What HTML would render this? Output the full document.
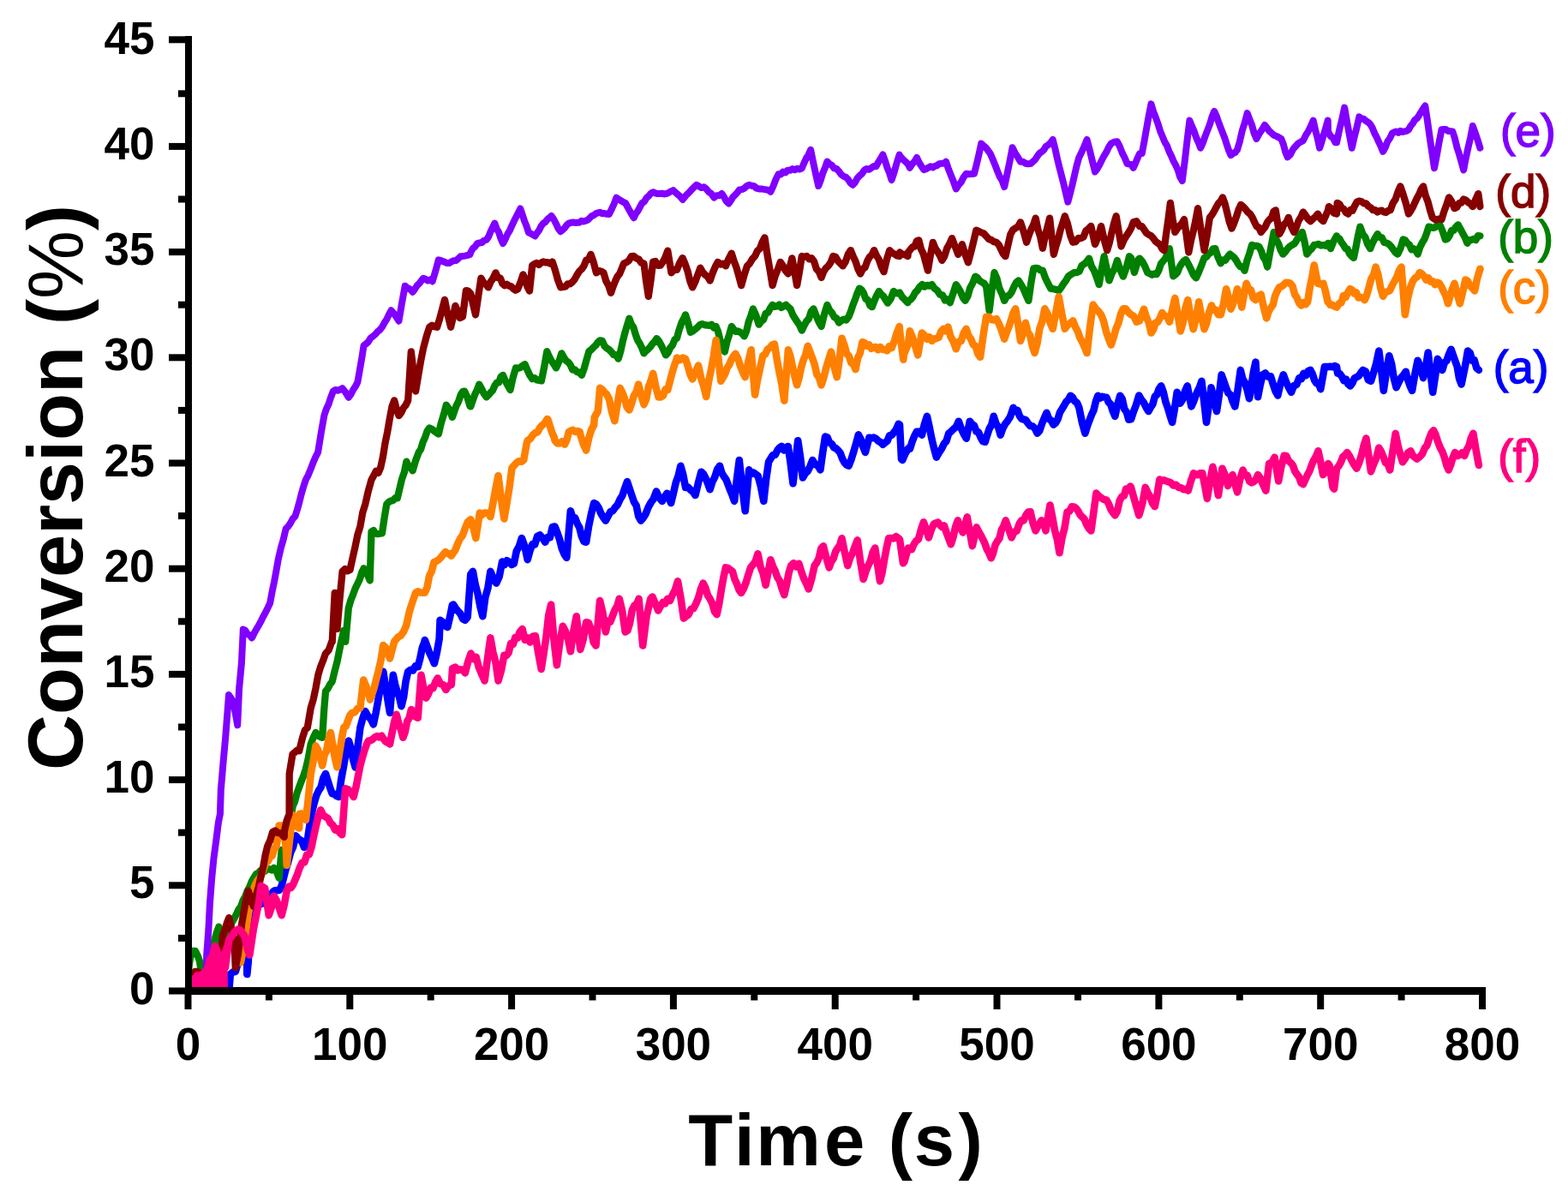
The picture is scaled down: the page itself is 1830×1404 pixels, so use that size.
<!DOCTYPE html>
<html><head><meta charset="utf-8"><style>
html,body{margin:0;padding:0;background:#fff;}
svg{display:block;}
text{font-family:"Liberation Sans",Arial,sans-serif;font-weight:bold;}
.lg text{font-weight:normal;}
</style></head><body>
<svg width="1830" height="1404" viewBox="0 0 1830 1404">
<rect width="1830" height="1404" fill="#fff"/>
<defs><clipPath id="pc"><rect x="216" y="0" width="1614" height="1156"/></clipPath></defs>
<g clip-path="url(#pc)" fill="none" stroke-width="8" stroke-linejoin="round" stroke-linecap="round">
<path d="M267.3 1156.4L268.8 1137.0L271.8 1134.4L274.8 1134.0L277.5 1125.0L280.2 1121.1L282.9 1110.8L285.6 1106.7L288.3 1099.6L288.3 1137.0L289.8 1122.0L291.3 1077.1L292.8 1066.7L295.4 1063.5L297.9 1059.3L300.5 1059.7L303.1 1054.5L305.6 1054.6L308.2 1050.0L310.8 1047.8L313.3 1047.4L315.9 1047.5L318.4 1040.9L321.0 1039.2L323.6 1039.3L326.1 1038.8L328.7 1033.8L333.2 1015.8L336.2 1006.2L339.1 995.0L342.1 988.4L345.1 975.4L349.2 980.0L349.6 979.9L352.3 981.7L355.0 988.9L356.9 987.7L359.3 977.4L361.7 961.4L364.1 948.1L366.5 937.7L369.2 928.5L371.9 922.7L374.6 918.8L377.3 908.1L380.0 903.1L382.6 911.3L385.1 919.3L387.7 926.2L390.3 926.7L392.8 929.0L395.4 930.0L398.3 909.1L401.2 893.5L404.0 876.4L406.9 864.6L409.5 873.1L412.0 886.2L414.6 895.4L417.5 871.9L420.4 849.2L423.3 838.5L426.2 830.0L428.6 834.4L431.0 837.4L433.4 840.3L435.8 845.4L438.7 831.8L441.6 815.8L444.4 797.7L447.3 783.8L449.9 800.3L452.4 816.0L455.0 831.9L458.8 787.7L461.2 799.1L463.6 807.3L466.1 813.8L468.5 824.2L471.1 813.6L473.6 795.0L476.2 783.8L479.1 781.9L481.9 782.5L484.8 777.4L487.7 778.1L490.3 768.4L492.8 756.1L495.4 749.2L495.8 747.0L498.6 754.8L501.4 762.2L504.1 767.8L506.9 774.2L509.8 762.1L512.7 745.4L513.6 723.8L516.8 726.1L520.0 730.7L522.3 731.9L525.1 720.1L527.9 706.0L529.1 705.6L531.8 709.8L534.6 713.4L537.3 716.3L540.1 722.3L542.8 723.9L545.7 720.3L549.3 670.4L551.9 666.9L554.8 682.7L557.6 692.9L560.4 707.8L563.3 719.3L566.3 697.4L569.4 686.4L572.4 666.9L575.8 675.2L579.3 680.6L582.7 673.0L586.1 655.5L588.8 659.2L591.6 654.3L594.3 655.7L597.1 659.0L599.8 657.8L602.8 643.1L605.9 637.6L608.9 628.1L612.3 637.3L615.7 653.2L618.6 642.5L621.4 635.1L624.2 635.4L627.1 625.9L630.1 624.5L633.2 627.9L636.2 632.7L639.1 627.1L641.9 627.3L644.8 614.9L647.6 614.5L650.3 621.3L653.1 629.6L655.8 640.2L658.6 646.8L661.3 650.9L665.9 596.2L668.5 605.1L671.1 604.4L673.7 611.0L676.3 615.6L678.9 626.1L681.5 632.1L684.1 632.7L687.1 614.0L690.2 599.1L693.2 587.1L695.9 588.5L698.7 592.6L701.4 599.3L704.2 604.0L706.9 607.6L709.6 602.5L712.4 597.3L715.1 596.2L717.9 592.3L720.6 589.4L723.5 583.0L726.3 578.5L729.1 570.1L732.0 562.1L734.6 569.8L737.3 578.0L740.0 585.9L742.6 589.8L745.2 602.4L747.9 607.6L750.0 605.4L753.4 600.2L756.8 591.7L759.3 587.1L762.6 582.5L766.0 573.5L769.4 581.0L772.8 584.9L775.6 579.7L778.5 575.7L783.1 587.1L785.9 575.7L788.8 563.1L791.6 555.4L794.4 543.8L797.2 553.7L800.1 568.9L803.0 568.6L805.8 571.7L808.6 573.7L811.5 578.0L815.0 563.4L818.4 550.7L821.0 553.1L823.5 558.0L826.0 564.0L828.6 571.2L831.5 562.0L834.3 556.7L837.1 547.8L840.0 543.8L842.4 551.9L844.9 556.2L847.3 559.3L849.8 565.8L852.2 572.2L854.7 578.2L857.1 584.9L860.0 558.7L862.8 537.0L866.2 568.7L869.7 596.3L874.2 548.4L876.8 553.1L879.4 551.6L881.9 553.4L884.5 555.2L887.9 567.6L891.3 584.9L894.1 559.7L897.0 539.3L899.6 534.9L902.1 531.0L904.7 531.0L907.3 525.6L909.8 522.6L912.3 520.9L914.8 525.5L917.3 522.1L919.8 521.0L922.6 540.5L925.5 564.3L928.4 539.5L931.2 514.2L934.0 533.0L936.9 557.5L939.8 552.5L942.6 550.1L945.4 544.3L948.3 537.0L951.3 542.0L954.4 543.2L957.4 548.4L960.2 528.2L963.1 509.6L965.6 510.3L968.1 516.7L970.7 518.0L973.2 522.2L975.7 523.3L978.2 525.7L980.6 528.5L983.1 535.4L985.6 539.9L988.0 542.5L990.5 543.8L993.4 536.5L996.2 527.5L999.0 517.9L1001.9 507.4L1004.6 512.6L1007.2 521.2L1009.9 527.9L1014.4 510.8L1017.1 511.3L1019.7 510.6L1022.4 512.0L1025.1 514.8L1027.7 516.0L1030.4 518.8L1033.0 516.5L1035.6 514.7L1038.2 508.2L1040.8 507.7L1043.4 504.6L1046.0 501.0L1048.6 494.8L1050.0 495.7L1052.0 535.6L1053.2 537.0L1056.6 529.3L1060.0 523.3L1062.0 523.7L1064.6 515.4L1067.3 508.7L1069.9 503.7L1072.9 503.9L1075.9 507.7L1078.9 495.0L1081.9 485.8L1084.7 498.5L1087.4 512.1L1090.2 523.7L1092.9 533.6L1095.9 528.2L1098.9 523.9L1101.9 517.7L1104.5 514.8L1107.2 505.9L1109.8 503.7L1112.8 500.7L1115.8 498.2L1118.8 491.7L1121.8 500.1L1124.8 506.5L1127.8 511.7L1131.8 491.7L1134.4 495.0L1136.9 496.6L1139.5 503.7L1142.0 504.4L1144.6 510.6L1147.1 515.1L1149.7 515.7L1152.2 507.6L1154.7 500.2L1157.2 496.0L1159.7 485.8L1162.4 494.4L1165.0 498.4L1167.7 507.7L1170.3 500.1L1173.0 494.9L1175.6 491.7L1179.1 486.2L1182.6 475.8L1185.0 480.2L1187.5 478.8L1189.9 485.4L1192.3 488.9L1194.7 489.5L1197.2 490.2L1199.6 493.7L1202.3 497.0L1205.1 497.5L1207.8 499.8L1210.6 505.7L1213.3 502.6L1216.0 494.6L1218.8 487.9L1221.5 481.8L1224.2 489.0L1226.8 490.7L1229.5 495.7L1232.0 493.7L1234.5 489.2L1237.0 481.3L1239.5 477.3L1241.9 473.3L1244.4 468.7L1246.9 466.6L1249.4 461.8L1251.9 463.9L1254.4 468.3L1256.9 470.1L1259.4 475.8L1262.9 493.2L1266.4 505.7L1268.9 497.5L1271.4 490.8L1273.9 484.3L1276.4 478.9L1278.9 468.6L1281.4 461.8L1283.9 464.8L1286.3 462.8L1288.8 463.5L1291.3 463.8L1293.8 469.4L1296.3 471.9L1298.8 479.9L1301.3 485.8L1304.3 471.9L1307.3 461.8L1309.8 465.8L1312.3 477.5L1314.8 480.8L1317.3 489.7L1320.0 489.3L1323.1 480.0L1326.1 472.3L1329.2 461.8L1329.3 461.5L1332.1 466.5L1334.8 469.7L1337.6 475.5L1340.4 480.0L1342.9 475.4L1345.3 471.8L1347.8 462.8L1350.3 460.6L1352.7 453.8L1355.2 450.4L1357.8 457.6L1360.4 469.1L1362.9 476.0L1365.5 484.9L1368.1 493.0L1370.9 477.0L1373.7 457.8L1377.4 470.7L1380.2 466.4L1382.9 456.8L1385.7 450.4L1390.4 474.4L1392.8 469.2L1395.2 462.6L1397.6 456.7L1400.0 451.9L1402.4 444.8L1405.2 468.6L1408.0 493.0L1410.8 472.8L1413.5 452.2L1416.8 466.0L1420.0 480.0L1422.8 461.3L1425.6 437.4L1428.2 444.8L1430.8 452.0L1433.4 458.6L1436.1 460.6L1438.7 468.6L1441.3 474.4L1444.5 455.8L1447.8 431.9L1450.3 442.3L1452.9 446.4L1455.5 454.6L1458.0 465.2L1460.5 450.7L1462.9 434.2L1465.4 422.6L1468.1 463.3L1470.9 448.8L1473.7 437.4L1476.8 435.5L1479.9 439.7L1483.0 439.3L1485.8 448.4L1488.5 456.5L1491.3 461.5L1494.5 447.4L1497.8 437.4L1500.9 445.5L1503.9 452.0L1507.0 457.8L1510.1 450.1L1513.2 449.0L1516.3 441.1L1518.9 442.1L1521.5 435.7L1524.1 438.3L1526.7 433.1L1529.3 431.9L1531.7 436.3L1534.1 443.7L1536.5 447.2L1538.9 447.6L1541.3 454.1L1545.9 428.1L1550.0 428.1L1552.5 427.7L1555.0 428.2L1557.5 427.1L1560.0 428.1L1561.1 435.6L1563.6 436.2L1566.0 439.4L1568.5 444.3L1571.0 442.6L1573.4 448.3L1575.9 450.4L1578.4 447.0L1580.8 441.3L1583.3 440.1L1585.8 438.8L1588.2 435.1L1590.7 431.9L1593.8 433.6L1596.9 443.4L1600.0 444.8L1603.1 434.8L1606.2 424.2L1609.3 409.6L1612.0 430.4L1614.8 455.9L1618.0 434.1L1621.3 415.2L1624.1 424.8L1626.8 441.5L1629.6 452.2L1632.4 446.2L1635.2 440.7L1637.9 437.9L1640.7 433.7L1643.2 443.6L1645.6 450.4L1648.1 455.9L1651.3 436.9L1654.6 420.7L1657.8 428.8L1661.1 441.1L1663.9 428.8L1666.7 411.5L1669.5 435.1L1672.2 457.8L1675.0 439.6L1677.8 418.9L1680.5 422.9L1683.3 431.9L1685.8 423.2L1688.4 421.0L1691.0 413.4L1693.5 407.8L1698.1 420.7L1700.6 427.4L1703.1 441.9L1705.6 448.5L1708.1 436.3L1710.5 424.4L1713.0 409.6L1715.6 411.6L1718.2 420.7L1720.7 420.4L1723.3 429.6L1725.9 431.9" stroke="#0000ff" stroke-width="8.6"/>
<path d="M218.0 1152.0L219.0 1140.0L222.0 1118.0L225.0 1110.0L228.0 1110.0L231.0 1116.0L233.0 1122.0L235.0 1135.0L236.5 1145.0L239.2 1135.7L241.9 1126.2L244.6 1118.1L247.3 1110.6L250.0 1098.7L252.7 1089.0L255.4 1081.6L258.4 1104.1L260.9 1099.0L263.4 1092.5L266.0 1086.7L268.5 1081.7L271.0 1075.9L273.6 1071.4L276.1 1066.6L278.6 1061.3L281.1 1058.1L283.6 1050.8L286.2 1046.5L288.7 1039.8L291.2 1035.3L293.8 1028.7L296.3 1024.4L298.8 1020.3L301.7 1018.8L304.3 1015.8L306.8 1018.1L309.4 1016.5L312.0 1014.0L314.6 1014.4L317.1 1015.6L319.7 1012.8L322.7 1017.1L325.7 1024.8L328.7 991.9L331.7 1009.8L334.1 994.1L336.6 975.4L339.1 958.6L341.5 941.5L344.1 935.3L346.6 925.7L349.2 918.5L351.8 911.5L354.3 905.2L356.9 897.3L359.8 885.0L362.7 868.5L365.6 861.1L368.5 855.0L371.1 858.4L373.6 859.8L376.2 860.8L378.1 830.0L380.0 806.9L382.6 803.7L385.1 798.8L387.7 795.4L390.6 783.2L393.5 772.3L397.3 753.1L401.2 735.8L403.2 748.8L406.8 709.6L409.4 700.5L412.1 693.7L414.8 686.3L417.4 681.1L419.8 676.2L422.2 668.2L424.6 663.3L428.1 668.9L431.7 677.5L433.5 620.5L436.0 619.0L438.5 622.7L440.9 623.2L443.4 622.7L445.9 622.3L448.6 604.4L451.3 588.4L453.8 585.8L456.3 584.6L458.8 584.0L461.3 581.2L463.8 581.3L466.4 570.4L469.1 558.9L471.8 551.3L474.4 538.6L476.8 544.2L479.2 545.9L481.6 549.3L485.1 537.5L488.7 527.9L491.2 524.2L493.7 515.7L496.2 510.2L498.7 502.9L501.2 499.4L503.9 500.7L506.5 502.8L509.1 504.7L511.8 506.5L514.8 493.9L517.8 484.0L520.8 472.7L524.3 477.6L527.9 486.9L530.3 479.9L532.7 473.2L535.2 468.6L537.6 461.0L540.0 457.1L542.1 456.6L545.3 463.3L548.5 474.2L549.3 474.4L551.8 467.1L554.2 460.3L556.7 455.4L559.2 448.6L562.1 453.7L564.9 459.6L567.8 463.5L570.2 461.0L572.6 458.1L575.0 455.6L577.4 450.2L579.8 446.7L582.2 446.4L584.6 439.6L587.0 437.9L589.8 444.6L592.7 449.9L595.5 455.0L598.8 440.2L602.0 429.4L604.6 429.8L607.3 429.0L610.0 426.7L612.6 425.1L615.5 431.8L618.3 437.9L621.2 442.2L623.9 441.1L626.5 443.4L629.2 443.8L631.9 444.3L635.1 428.7L638.3 410.1L641.0 416.3L643.6 421.2L646.3 424.9L649.0 429.4L652.2 422.6L655.4 412.3L658.0 416.9L660.5 420.8L663.1 422.6L665.6 425.6L668.2 431.5L670.9 431.5L673.5 434.1L676.2 434.6L678.9 437.9L681.7 430.1L684.6 419.6L687.4 410.1L690.0 408.1L692.5 405.5L695.1 403.2L697.6 399.8L700.2 397.3L702.9 397.8L705.6 404.0L708.2 406.4L710.9 408.0L713.6 410.8L716.2 414.1L718.9 414.1L721.6 418.7L724.2 410.3L726.7 398.8L729.3 388.6L731.8 380.1L734.4 371.7L736.8 378.5L739.3 382.0L741.7 390.2L744.2 397.0L746.6 400.7L749.1 406.0L751.5 412.3L754.0 409.4L756.5 407.4L759.0 404.9L761.4 401.4L763.9 398.7L766.4 395.2L769.1 398.1L771.8 403.2L774.4 408.5L777.1 414.4L779.7 411.5L782.3 405.7L784.8 402.9L787.4 396.5L790.0 394.7L792.1 386.6L795.6 376.2L799.1 369.6L800.0 367.4L803.0 376.6L805.9 387.8L808.8 386.3L811.6 384.1L814.4 381.7L817.3 378.7L819.9 378.1L822.5 379.4L825.1 379.5L827.8 379.9L830.4 378.7L833.0 382.4L835.6 381.0L838.1 387.1L840.7 397.9L843.2 405.1L845.8 410.6L848.5 398.6L851.1 390.7L853.8 381.0L856.3 384.3L858.7 386.9L861.2 386.5L863.7 387.6L866.1 389.2L868.6 392.4L871.2 386.4L873.8 375.2L876.3 368.8L878.9 360.5L882.3 368.0L885.7 378.7L888.4 375.0L891.0 373.1L893.7 365.7L896.3 364.9L899.0 359.7L901.6 355.9L904.2 357.9L906.8 357.5L909.4 355.7L912.1 359.0L914.7 357.5L917.3 355.8L919.9 358.2L922.5 360.6L925.2 367.3L927.8 371.7L930.5 375.6L933.1 379.5L935.8 385.6L938.5 379.9L941.3 374.8L944.0 372.0L946.8 363.3L949.5 360.5L952.5 368.4L955.6 375.7L958.6 381.0L962.0 366.8L965.4 355.9L968.1 361.9L970.9 365.1L973.6 370.0L976.4 371.5L979.1 376.5L982.0 374.2L984.8 372.6L987.6 373.5L990.5 369.6L993.0 363.4L995.5 355.8L998.0 349.5L1000.5 342.2L1003.0 336.6L1005.5 338.2L1007.9 342.0L1010.4 348.9L1012.9 350.1L1015.3 356.5L1017.8 358.2L1020.5 351.0L1023.1 345.0L1025.8 340.0L1028.4 343.5L1030.9 345.5L1033.5 349.7L1036.1 353.7L1039.5 348.9L1042.9 340.0L1046.5 342.4L1050.0 341.5L1053.1 346.8L1056.3 349.9L1059.4 353.3L1060.0 351.4L1062.7 349.8L1065.4 346.6L1068.1 341.5L1070.8 338.8L1073.5 334.5L1076.3 332.0L1079.1 334.6L1082.0 332.8L1084.8 333.7L1087.6 332.1L1090.7 336.7L1093.9 339.0L1097.0 343.9L1100.0 344.3L1102.9 350.5L1105.8 349.3L1108.8 353.3L1112.3 342.6L1115.8 332.1L1118.5 336.1L1121.1 340.6L1123.8 347.3L1126.4 350.9L1129.4 345.9L1132.3 335.7L1135.2 330.4L1138.2 322.7L1140.8 324.2L1143.4 327.7L1145.9 329.3L1148.5 330.7L1151.1 334.5L1154.6 362.7L1157.5 338.9L1160.5 318.0L1163.4 324.9L1166.3 336.2L1169.3 342.7L1172.2 350.9L1175.0 345.8L1177.7 344.9L1180.5 341.3L1183.2 335.0L1186.0 329.7L1188.7 327.4L1191.6 331.9L1194.6 337.3L1197.5 344.3L1200.4 350.9L1203.3 330.3L1206.3 313.3L1209.0 312.8L1211.6 313.4L1214.2 315.4L1216.9 315.7L1220.0 324.4L1223.2 330.9L1226.3 336.8L1229.4 337.2L1232.6 338.0L1235.7 339.2L1238.5 335.5L1241.3 331.1L1244.2 327.2L1247.0 322.2L1249.8 320.4L1253.3 318.2L1256.9 318.0L1259.7 316.8L1262.5 309.8L1265.4 308.2L1268.2 305.5L1271.0 301.6L1273.9 310.8L1276.8 315.6L1279.8 323.5L1282.7 332.1L1285.7 314.5L1288.6 299.2L1291.5 312.9L1294.5 327.4L1297.6 319.3L1300.8 313.7L1303.9 303.9L1307.4 314.8L1310.9 322.7L1314.5 312.6L1318.0 299.2L1320.0 300.9L1323.9 318.0L1328.5 303.0L1330.0 301.6L1333.1 305.0L1336.1 310.5L1339.2 318.0L1341.9 319.4L1344.6 320.8L1347.2 319.5L1349.9 320.1L1352.4 315.5L1354.9 307.9L1357.4 304.7L1359.9 302.0L1362.4 296.6L1364.9 290.2L1369.2 322.3L1371.7 320.6L1374.2 317.9L1376.7 311.5L1379.1 307.7L1381.6 304.7L1384.1 303.0L1387.0 308.4L1390.0 314.5L1393.0 321.0L1395.9 324.4L1399.1 317.5L1402.3 309.4L1405.5 300.9L1408.1 299.9L1410.6 296.4L1413.2 294.7L1415.7 290.3L1418.3 290.2L1421.5 300.0L1424.7 307.3L1427.4 303.4L1430.1 303.8L1432.7 299.9L1435.4 296.6L1437.8 298.5L1440.3 300.5L1442.7 303.8L1445.2 308.2L1447.6 311.3L1450.1 311.4L1452.5 315.9L1455.4 304.0L1458.2 296.0L1461.1 285.9L1463.9 287.0L1466.8 286.9L1469.6 288.1L1472.0 292.8L1474.4 300.3L1476.8 303.6L1479.2 311.6L1481.7 297.2L1484.2 284.4L1486.7 271.0L1489.4 279.4L1492.1 284.4L1494.7 291.9L1497.4 296.6L1500.1 293.8L1502.8 290.1L1505.4 287.5L1508.1 285.9L1511.0 284.2L1513.9 279.4L1516.9 273.9L1519.8 271.0L1522.5 281.7L1525.2 296.6L1528.0 293.0L1530.9 290.2L1533.7 285.9L1536.4 285.5L1539.1 284.8L1541.7 286.6L1544.4 285.9L1547.2 286.7L1550.0 283.8L1553.0 290.2L1556.5 281.5L1560.0 275.3L1560.7 277.4L1563.1 278.3L1565.5 282.6L1567.9 285.9L1570.3 290.0L1572.7 290.8L1575.1 296.3L1577.5 299.0L1579.9 300.9L1582.4 288.8L1584.9 275.4L1587.4 264.6L1590.4 273.1L1593.3 276.6L1596.2 285.2L1599.2 290.2L1602.0 283.3L1604.9 277.6L1607.7 273.1L1610.3 276.9L1612.9 277.4L1615.5 282.9L1618.1 283.5L1620.8 284.8L1623.4 287.5L1626.0 291.0L1628.6 294.7L1631.2 296.6L1634.4 290.0L1637.6 279.5L1640.0 280.4L1642.5 283.9L1644.9 285.6L1647.4 291.4L1649.8 290.1L1652.3 292.2L1654.7 296.6L1657.3 288.3L1659.8 283.3L1662.4 279.2L1664.9 272.7L1667.5 264.6L1670.1 265.2L1672.7 265.9L1675.2 265.2L1677.8 262.1L1680.4 262.4L1683.6 269.6L1686.8 279.5L1689.3 278.6L1691.8 274.9L1694.2 268.9L1696.7 268.8L1699.2 264.7L1701.7 262.4L1704.4 267.2L1707.1 272.4L1709.7 277.0L1712.4 283.8L1714.9 280.2L1717.4 280.0L1719.9 278.9L1722.4 280.1L1724.9 275.1L1727.4 275.3" stroke="#008000" stroke-width="8.3"/>
<path d="M280.8 1123.5L283.8 1109.1L286.8 1089.1L289.8 1066.7L292.3 1054.0L294.8 1043.9L297.3 1033.8L300.3 1027.8L302.8 1025.2L305.3 1020.8L307.8 1013.9L310.3 1007.1L312.7 1005.2L315.2 1000.1L317.7 998.9L320.2 990.0L322.7 987.4L325.7 963.5L330.2 963.5L333.8 989.6L334.7 1009.8L338.1 979.7L341.5 951.2L342.1 957.5L345.6 964.4L349.2 966.5L349.6 950.0L352.0 949.5L354.5 954.1L356.9 956.9L359.8 931.9L362.7 903.1L365.6 888.4L368.5 870.4L371.1 875.3L373.6 883.0L376.2 893.5L378.6 881.3L381.0 876.8L383.4 863.2L385.8 855.0L388.4 870.0L390.9 884.3L393.5 895.4L396.1 879.0L398.6 863.2L401.2 849.2L403.6 847.6L406.0 841.3L408.4 834.8L410.8 831.9L414.0 831.3L417.2 827.0L420.4 826.2L424.2 793.5L426.8 799.8L429.3 805.9L431.9 816.5L434.3 809.9L436.7 802.6L439.1 792.8L441.5 783.8L444.4 771.1L447.3 753.1L449.9 755.4L452.4 761.8L455.0 768.5L457.6 758.5L460.2 748.8L464.6 743.5L467.8 741.7L471.0 737.2L474.2 730.0L478.0 713.1L481.6 701.8L485.1 691.8L487.8 690.3L490.5 691.4L493.1 691.8L495.8 691.8L498.5 685.4L501.1 672.0L503.8 666.8L506.5 656.1L509.2 655.1L511.9 653.2L514.6 650.5L517.3 647.1L520.0 644.1L520.8 645.4L523.8 646.0L526.8 648.7L531.4 641.9L534.2 634.5L537.1 628.5L539.9 624.8L542.8 616.8L546.0 609.0L549.3 606.3L549.6 607.6L552.5 616.0L555.3 628.1L559.9 598.5L562.4 600.9L564.9 598.8L567.4 598.6L569.9 599.4L572.4 603.1L575.4 587.4L578.5 570.1L581.5 555.2L585.0 583.2L588.4 605.4L591.4 587.9L594.5 568.8L597.5 546.1L600.2 542.9L603.0 540.0L605.7 538.2L608.5 538.8L611.2 537.0L614.8 516.9L615.7 514.2L618.7 512.4L621.8 507.8L624.8 505.1L627.6 504.1L630.3 498.8L633.0 496.1L635.8 493.6L638.5 489.1L639.3 489.2L641.8 497.3L644.3 504.9L646.8 510.5L647.6 514.2L650.5 517.4L653.3 517.4L656.1 515.3L659.0 518.7L661.5 513.4L663.9 504.1L665.9 502.8L668.6 501.9L671.3 503.9L674.0 503.0L676.7 504.1L677.3 507.4L680.7 517.9L684.1 525.6L687.4 510.5L690.3 501.4L693.2 496.0L693.8 487.0L697.8 480.0L700.2 452.9L702.9 454.6L705.5 457.8L708.2 460.4L710.9 465.7L714.1 480.8L717.3 491.3L720.5 472.6L723.7 452.9L726.4 458.3L729.0 465.1L731.7 475.1L734.4 478.5L737.1 471.1L739.8 461.9L742.4 457.9L745.1 448.6L748.3 461.3L751.5 472.1L754.2 466.0L756.9 451.6L759.5 444.7L762.2 435.8L765.4 451.6L768.6 463.5L771.3 463.4L774.0 461.7L776.6 454.4L779.3 455.0L781.9 444.7L784.6 434.6L787.2 425.9L789.9 418.7L790.0 417.5L793.4 420.3L796.8 417.5L800.0 418.7L802.7 427.1L805.5 437.1L808.2 442.5L811.7 433.8L815.1 426.6L818.1 440.9L821.2 450.6L824.2 463.0L827.1 445.1L829.9 431.7L832.8 416.2L835.6 397.0L838.5 418.5L841.3 444.8L843.7 440.8L846.2 436.4L848.6 429.4L851.1 425.8L853.5 419.9L856.0 415.7L858.4 412.9L861.2 418.3L864.0 427.1L866.9 434.3L869.7 440.2L873.2 422.5L876.6 408.3L881.1 460.8L884.2 442.7L887.2 429.4L890.3 415.2L893.0 413.5L895.7 407.8L898.5 405.9L901.2 402.5L903.9 401.5L906.8 419.8L909.6 434.8L912.4 448.5L915.3 467.6L919.9 408.3L922.5 416.2L925.0 428.2L927.5 439.4L930.1 449.4L932.6 441.1L935.1 428.7L937.7 420.0L940.2 414.1L942.7 403.8L945.4 410.9L948.0 417.7L950.7 425.4L953.3 436.9L956.0 440.7L958.6 449.4L961.5 440.1L964.3 429.1L967.1 419.8L970.0 410.6L973.4 427.6L976.8 440.2L979.6 420.4L982.5 394.7L985.4 403.0L988.2 412.9L990.8 415.6L993.4 423.4L995.9 424.8L998.5 431.1L1001.2 417.5L1003.8 412.2L1006.5 399.2L1009.1 400.0L1011.7 403.7L1014.3 402.5L1016.9 406.7L1019.5 405.5L1022.1 405.0L1024.7 408.3L1027.3 405.0L1030.0 407.9L1032.7 408.0L1035.3 409.3L1037.9 404.0L1040.6 406.1L1043.6 398.5L1046.7 388.6L1049.7 381.0L1050.0 386.2L1054.3 419.7L1054.7 414.4L1057.3 408.0L1060.0 401.5L1061.8 386.2L1064.9 393.5L1068.1 403.7L1071.2 414.4L1075.9 388.5L1078.8 391.0L1081.8 395.8L1084.7 393.2L1087.6 397.9L1090.3 395.5L1093.0 395.0L1095.7 393.7L1098.3 386.7L1101.0 383.9L1103.7 386.5L1106.4 381.5L1109.5 393.0L1112.7 398.6L1115.8 407.3L1118.8 398.7L1121.7 398.1L1124.6 389.0L1127.6 383.8L1130.3 391.7L1133.1 395.5L1135.8 402.2L1138.5 403.8L1141.3 413.0L1144.0 416.8L1147.5 391.6L1151.1 369.7L1154.0 369.7L1156.9 373.0L1159.9 373.5L1162.8 372.1L1165.9 378.0L1169.1 386.1L1172.2 395.6L1174.8 387.9L1177.4 381.6L1180.0 373.7L1182.6 365.1L1185.2 360.3L1188.1 377.6L1191.0 397.9L1194.0 388.7L1196.9 376.8L1199.6 388.0L1202.2 391.6L1204.8 403.6L1207.5 412.0L1210.5 400.6L1213.4 383.4L1216.3 375.3L1219.3 360.3L1222.4 365.8L1225.6 376.6L1228.7 383.8L1232.2 365.3L1235.7 346.2L1239.2 365.8L1242.8 383.8L1245.9 379.5L1249.1 377.1L1252.2 374.4L1254.9 381.2L1257.7 386.5L1260.4 394.2L1263.1 399.1L1265.9 405.4L1268.6 412.0L1272.2 380.9L1275.7 355.6L1278.8 360.2L1282.0 363.4L1285.1 367.4L1288.0 374.6L1290.9 386.6L1293.9 395.5L1296.8 402.6L1299.6 393.9L1302.4 383.8L1305.3 377.1L1308.1 366.4L1310.9 360.3L1313.9 360.4L1317.0 364.5L1320.0 367.2L1323.2 369.0L1326.4 375.7L1330.0 374.4L1332.5 367.2L1335.0 360.7L1337.8 370.0L1340.7 376.5L1343.5 388.5L1346.1 384.6L1348.6 376.6L1351.2 375.8L1353.7 371.4L1356.3 365.0L1359.2 368.6L1362.0 369.5L1364.9 375.7L1368.1 361.8L1371.3 347.9L1374.5 366.4L1377.7 386.4L1380.6 377.0L1383.4 360.0L1386.3 350.1L1389.5 369.3L1392.7 384.2L1395.9 371.2L1399.1 352.2L1402.3 369.6L1405.5 384.2L1408.3 376.9L1411.2 363.9L1414.0 356.5L1416.7 362.1L1419.3 361.8L1422.0 367.3L1424.7 367.2L1427.9 354.7L1431.1 337.2L1433.8 346.9L1436.5 360.7L1439.0 354.6L1441.5 347.6L1444.0 337.2L1446.7 345.3L1449.3 358.6L1451.9 343.8L1454.6 330.8L1457.3 337.2L1459.9 338.4L1462.6 347.7L1465.3 350.1L1468.5 345.5L1471.7 343.6L1475.0 359.4L1478.2 371.4L1480.7 363.2L1483.2 359.3L1485.7 355.8L1488.1 345.4L1490.6 339.7L1493.1 335.1L1495.7 334.3L1498.2 332.3L1500.8 329.7L1503.3 329.8L1505.9 330.8L1508.5 333.9L1511.1 343.7L1513.6 347.3L1516.2 353.7L1518.8 356.5L1521.3 353.1L1523.7 355.3L1526.2 352.2L1528.7 335.6L1531.2 323.9L1533.7 309.4L1538.0 330.8L1541.2 331.6L1544.4 330.8L1547.1 340.7L1549.7 352.2L1550.0 352.2L1552.5 356.0L1555.0 355.7L1557.5 357.5L1560.0 358.6L1562.8 354.3L1565.4 353.2L1567.9 345.1L1570.5 347.0L1573.0 341.4L1575.6 337.2L1578.0 338.4L1580.5 342.7L1582.9 341.3L1585.4 347.5L1587.8 346.9L1590.3 347.4L1592.7 350.1L1595.3 344.0L1597.9 334.4L1600.4 325.1L1603.0 320.8L1605.6 311.6L1608.4 320.3L1611.3 336.3L1614.1 345.8L1616.8 341.1L1619.4 340.2L1622.1 339.1L1624.8 333.0L1627.5 328.2L1630.2 323.3L1632.8 315.8L1635.5 311.6L1639.8 367.2L1643.0 348.2L1646.2 335.1L1648.9 328.0L1651.6 324.4L1654.2 323.0L1656.9 318.0L1659.5 319.7L1662.0 322.4L1664.6 326.8L1667.1 324.4L1669.7 328.7L1672.3 328.3L1674.8 332.2L1677.4 329.7L1679.9 330.8L1682.5 335.1L1685.0 340.6L1687.5 345.5L1690.0 354.3L1692.5 345.6L1695.0 337.0L1697.5 330.8L1700.7 343.1L1703.9 354.3L1707.1 340.9L1710.3 326.5L1713.0 328.0L1715.7 333.7L1718.3 336.0L1721.0 339.4L1724.2 324.4L1727.4 313.7" stroke="#ff8000" stroke-width="8.6"/>
<path d="M222.5 1137.0L225.0 1137.9L227.5 1133.9L230.0 1134.0L232.5 1135.2L235.0 1137.7L237.4 1142.8L239.9 1146.6L242.4 1148.9L244.9 1150.4L247.6 1142.8L250.3 1135.0L253.0 1126.7L255.7 1122.3L258.4 1114.5L259.9 1092.1L262.4 1085.4L264.8 1077.4L267.3 1071.1L270.3 1084.6L273.3 1099.6L274.8 1129.5L277.8 1114.5L282.3 1077.1L286.8 1051.7L289.8 1039.7L292.8 1049.3L295.8 1057.7L298.8 1045.5L301.7 1035.7L304.7 1021.8L307.2 1011.4L309.7 997.8L312.2 987.4L315.2 980.9L318.2 970.9L321.2 969.4L324.2 972.0L327.2 972.4L331.7 976.9L331.9 970.4L334.7 957.5L337.6 950.0L337.7 903.1L341.5 880.0L344.1 878.1L346.6 875.6L349.2 876.2L353.1 860.8L356.0 851.9L358.8 849.2L362.7 826.2L365.6 816.6L368.5 803.1L371.4 787.2L374.2 778.1L377.1 770.8L380.0 762.7L383.6 758.8L387.2 748.8L387.7 749.2L390.7 691.8L393.5 733.8L396.6 697.8L399.6 666.8L402.6 664.1L405.5 666.4L408.5 665.0L411.5 651.4L414.4 638.7L417.4 624.1L420.4 614.4L423.3 598.0L426.3 588.4L429.9 572.8L433.5 559.9L436.2 555.0L438.9 549.6L441.5 552.0L444.2 545.7L446.9 533.4L449.5 517.2L452.1 504.5L454.8 488.7L457.5 474.5L460.2 467.3L462.9 477.7L465.5 485.1L468.2 481.7L470.9 476.0L473.5 472.8L476.2 467.3L479.8 410.3L482.5 433.2L485.1 456.6L488.1 438.8L491.0 421.7L494.0 406.8L497.6 393.1L501.2 381.8L504.2 379.8L507.1 381.1L510.1 381.8L513.1 372.2L516.0 361.3L519.0 349.8L522.5 367.3L526.1 381.8L528.8 370.3L531.4 356.9L534.1 363.0L536.8 371.1L540.0 369.5L543.9 339.1L546.4 339.6L549.3 342.6L552.1 355.2L555.0 367.4L558.2 345.8L561.4 324.7L564.2 329.5L567.1 331.9L569.9 335.4L572.8 328.7L575.6 324.6L578.5 318.3L581.1 324.1L583.8 324.5L586.5 331.1L589.1 333.2L591.6 331.8L594.1 333.6L596.6 334.2L599.1 337.1L601.6 338.7L604.1 337.5L607.3 330.0L610.5 320.4L613.0 326.0L615.5 334.9L618.0 339.6L621.2 309.7L623.8 308.1L626.3 306.9L628.9 309.0L631.4 306.9L634.0 305.5L636.7 306.3L639.4 306.2L642.0 307.6L644.7 305.5L647.9 315.3L651.1 326.9L654.3 335.4L657.1 335.0L659.9 334.4L662.6 331.3L665.4 331.3L668.2 329.0L670.9 325.6L673.5 320.7L676.2 316.5L678.9 314.0L681.5 310.3L684.2 303.6L686.9 303.0L689.5 296.9L692.7 306.0L695.9 318.3L698.8 316.2L701.6 316.6L704.5 318.3L707.3 328.0L710.2 333.3L713.0 341.8L715.5 334.5L718.0 328.3L720.5 322.7L723.0 319.8L725.5 313.9L728.0 307.6L730.9 306.3L733.9 304.3L736.8 299.2L739.7 299.0L742.7 301.5L745.6 302.7L748.5 306.8L751.5 307.6L754.1 328.2L756.8 346.0L759.5 327.5L762.2 305.5L765.0 305.0L767.9 309.9L770.7 309.7L773.6 305.8L776.4 300.3L779.3 292.6L783.5 318.3L786.8 314.9L790.0 314.9L793.2 306.8L796.4 301.2L796.8 301.3L799.6 308.1L802.5 316.3L805.4 328.4L808.2 335.4L811.2 329.2L814.3 320.9L817.3 312.7L820.1 317.8L823.0 320.7L825.9 322.9L828.7 327.5L831.7 318.5L834.8 311.3L837.8 305.8L840.9 308.5L843.9 307.6L847.0 310.4L850.4 302.2L853.8 295.6L856.6 304.7L859.5 312.3L862.4 322.7L865.2 333.2L868.6 320.8L872.0 310.4L875.0 307.5L878.1 302.2L881.1 299.0L884.0 292.8L886.8 290.2L889.6 282.7L892.5 277.3L895.5 297.5L898.6 315.1L901.6 333.2L904.7 322.0L907.7 314.6L910.8 305.8L913.8 310.1L916.9 316.1L919.9 319.5L924.4 301.3L927.2 316.6L930.1 333.2L933.0 317.0L935.8 299.0L938.6 299.7L941.5 298.9L944.4 302.3L947.2 301.3L950.1 305.2L952.9 314.1L955.8 316.9L958.6 324.0L961.3 316.8L964.1 312.7L966.8 310.2L969.6 306.1L972.3 299.0L975.1 299.7L978.0 304.7L980.9 307.5L983.7 310.4L986.7 305.6L989.8 296.8L992.8 292.1L995.6 298.9L998.5 305.1L1001.4 314.1L1004.2 319.5L1006.9 313.9L1009.5 312.3L1012.2 304.8L1014.8 300.0L1017.5 297.5L1020.1 292.1L1023.0 298.4L1025.8 302.9L1028.7 311.5L1031.5 317.2L1034.9 302.8L1038.3 292.1L1041.2 295.1L1044.0 296.4L1046.8 298.5L1049.7 299.0L1050.0 294.5L1053.1 296.6L1056.3 297.0L1059.4 299.2L1060.0 294.4L1062.5 291.2L1064.9 288.3L1067.4 287.7L1069.8 281.4L1072.3 280.4L1075.0 290.9L1077.6 296.0L1080.2 305.6L1082.9 315.7L1085.8 298.2L1088.8 282.8L1091.5 289.8L1094.1 293.4L1096.8 298.1L1099.4 303.9L1102.3 299.1L1105.2 289.8L1108.2 284.4L1111.1 278.1L1114.7 287.6L1118.2 296.9L1122.9 285.1L1126.4 296.8L1129.9 306.3L1133.0 294.9L1136.2 281.9L1139.3 268.7L1142.2 269.8L1145.2 271.4L1148.1 272.4L1151.1 275.7L1154.0 279.0L1156.9 280.0L1159.9 282.1L1162.8 282.8L1165.5 285.4L1168.1 290.7L1170.8 296.3L1173.4 299.2L1176.3 286.6L1179.3 273.4L1182.2 268.2L1185.2 266.2L1188.1 264.5L1191.0 259.3L1194.5 269.9L1198.1 282.8L1200.8 274.4L1203.4 267.8L1206.0 262.5L1208.7 254.6L1211.4 267.8L1214.2 276.5L1216.9 289.8L1219.6 276.6L1222.4 265.2L1225.1 254.6L1229.8 296.9L1232.4 287.2L1235.0 279.1L1237.6 268.6L1240.2 260.4L1242.8 252.2L1245.9 261.0L1249.1 274.7L1252.2 282.8L1255.3 282.2L1258.5 277.9L1261.6 278.1L1264.5 276.6L1267.4 269.3L1270.4 267.0L1273.3 264.0L1278.0 285.1L1281.5 276.7L1285.1 264.0L1288.6 279.4L1292.1 292.2L1294.8 283.2L1297.4 271.9L1300.0 260.9L1302.7 252.2L1305.7 270.5L1308.6 287.5L1311.4 280.6L1314.3 275.8L1317.2 271.4L1320.0 266.7L1322.7 259.3L1326.4 258.2L1330.0 264.0L1332.7 264.2L1335.4 268.1L1338.1 272.1L1340.8 273.9L1343.5 275.3L1346.0 278.1L1348.5 281.5L1351.0 283.6L1353.5 285.1L1356.0 289.9L1358.5 292.3L1361.0 273.4L1363.4 256.4L1365.9 236.8L1368.6 255.7L1371.3 271.0L1374.0 266.9L1376.7 263.8L1379.3 260.8L1382.0 256.0L1384.7 274.9L1387.3 294.5L1390.0 280.5L1392.7 269.8L1395.3 257.7L1398.0 243.2L1400.5 260.8L1403.0 276.8L1405.5 292.3L1408.7 274.7L1411.9 253.9L1414.4 250.8L1416.9 246.7L1419.4 241.9L1421.9 237.4L1424.4 234.9L1426.9 230.4L1429.6 237.7L1432.2 248.2L1434.8 258.9L1437.5 266.7L1440.2 260.7L1442.8 253.4L1445.5 244.8L1448.2 238.9L1450.9 241.2L1453.6 244.1L1456.2 247.5L1458.9 249.6L1461.5 253.5L1464.0 258.9L1466.6 264.3L1469.1 265.3L1471.7 271.0L1474.1 268.0L1476.6 264.9L1479.0 259.5L1481.5 256.3L1483.9 254.7L1486.4 246.9L1488.8 245.3L1493.1 273.1L1495.8 268.5L1498.4 262.0L1501.1 259.9L1503.8 253.9L1507.0 264.4L1510.2 271.0L1512.9 265.2L1515.6 257.5L1518.2 253.7L1520.9 247.5L1523.7 251.2L1526.6 255.6L1529.4 258.2L1532.3 255.4L1535.1 253.1L1538.0 249.6L1541.2 255.3L1544.4 258.2L1547.2 251.8L1550.0 245.3L1550.8 241.1L1553.9 243.5L1556.9 248.7L1560.0 249.6L1560.7 236.8L1563.3 238.1L1565.8 242.7L1568.4 244.0L1570.9 248.2L1573.5 249.6L1576.1 244.9L1578.6 245.7L1581.2 240.0L1583.7 235.6L1586.3 234.6L1589.0 235.2L1591.7 237.4L1594.3 237.3L1597.0 240.7L1599.7 242.3L1602.3 245.1L1605.0 245.2L1607.7 247.5L1610.2 246.1L1612.7 245.6L1615.2 247.5L1617.7 248.0L1620.2 245.8L1622.7 245.3L1625.6 237.1L1628.6 232.7L1631.5 224.0L1634.4 217.5L1637.6 226.9L1640.8 237.3L1644.0 249.6L1646.4 246.2L1648.9 241.8L1651.3 236.4L1653.8 231.1L1656.2 226.9L1658.7 220.9L1661.1 217.5L1663.8 228.6L1666.4 235.1L1669.1 245.4L1671.8 253.9L1674.5 255.8L1677.2 256.3L1679.8 255.3L1682.5 256.0L1685.4 246.6L1688.2 239.1L1691.1 230.4L1694.3 235.2L1697.5 243.2L1700.2 242.0L1702.8 237.2L1705.5 236.7L1708.2 232.5L1710.8 233.6L1713.5 236.3L1716.2 237.9L1718.8 241.1L1722.0 233.3L1725.3 226.1L1727.4 241.1" stroke="#860000" stroke-width="8.3"/>
<path d="M240.4 1156.4L241.2 1114.5L243.4 1084.6L244.9 1054.7L247.2 1024.8L249.4 1002.3L252.4 979.9L255.0 959.3L255.4 957.5L256.9 950.0L257.8 922.2L260.6 888.9L263.3 859.3L267.0 811.1L269.8 815.0L272.6 820.4L277.2 846.3L279.1 803.7L281.9 774.1L283.7 737.0L283.8 734.5L286.3 735.8L288.9 740.0L291.4 741.4L293.9 744.4L294.5 743.4L296.9 738.4L299.3 734.2L301.7 730.2L304.1 725.9L306.6 720.8L309.1 716.3L311.6 711.4L314.1 706.0L315.2 703.7L317.6 690.6L320.0 679.2L322.4 666.2L324.8 652.6L327.8 639.6L330.7 629.6L333.7 616.9L336.4 614.3L339.0 610.5L341.7 605.4L344.4 602.7L346.9 594.9L349.4 585.9L351.9 575.9L354.4 567.3L356.9 559.9L359.7 554.6L362.6 547.5L365.4 540.1L368.3 533.3L371.1 527.9L374.7 505.6L378.3 485.1L380.9 477.3L383.6 471.5L386.2 463.4L388.9 456.6L391.6 454.9L394.2 455.8L396.9 454.7L399.6 453.1L403.2 457.7L406.8 463.8L409.4 460.3L412.1 455.1L414.8 451.1L417.4 445.9L419.8 432.1L422.2 418.4L424.6 403.2L427.3 401.2L430.0 398.7L432.6 394.4L435.3 392.5L437.9 390.3L440.6 387.2L443.2 385.1L445.9 381.8L448.6 376.8L451.2 372.9L453.9 367.2L456.6 362.2L459.6 365.8L462.5 369.9L465.5 374.7L469.1 353.3L472.7 333.7L475.7 336.1L478.6 337.4L481.6 340.8L484.1 337.5L486.6 333.5L489.0 331.2L491.5 328.0L494.0 324.8L496.7 325.8L499.4 327.5L502.0 326.3L504.7 328.4L508.2 316.7L511.8 303.4L514.3 304.0L516.8 305.0L519.3 306.0L521.8 307.1L524.3 307.0L527.0 305.4L529.6 304.2L532.3 304.1L535.0 301.7L537.5 299.3L540.0 299.0L542.8 298.6L545.7 297.9L548.5 296.9L549.3 294.5L551.9 289.9L554.5 287.8L557.1 284.1L559.8 283.5L562.5 283.0L565.1 280.5L567.8 279.8L570.2 276.2L572.6 270.2L575.0 265.4L577.4 260.6L579.8 267.4L582.2 271.2L584.6 278.7L587.0 284.1L589.7 279.1L592.4 273.0L595.0 268.9L597.7 262.7L600.9 256.0L604.1 249.8L607.3 243.5L609.7 250.5L612.1 258.0L614.5 263.7L616.9 271.3L619.4 272.5L621.9 273.9L624.4 275.5L626.8 271.9L629.2 268.8L631.6 263.8L634.0 260.6L636.4 259.2L638.8 256.1L641.2 254.2L643.6 252.0L646.3 256.0L649.0 261.1L651.6 266.8L654.3 270.2L656.7 268.2L659.1 266.1L661.5 262.6L663.9 260.6L666.3 259.9L668.8 259.5L671.2 259.9L673.7 259.7L676.1 259.8L678.6 257.7L681.0 258.5L683.4 257.7L685.8 256.8L688.2 254.6L690.6 252.1L693.0 251.3L695.4 249.3L697.8 248.4L700.2 247.8L702.9 249.3L705.5 249.1L708.2 249.8L710.9 249.9L713.7 244.2L716.6 238.1L719.4 230.7L722.1 232.6L724.8 234.2L727.4 235.8L730.1 237.1L732.5 241.8L734.9 245.9L737.3 250.4L739.7 254.2L742.1 249.2L744.5 246.1L747.0 241.3L749.4 237.1L752.0 235.2L754.5 231.0L757.1 228.7L759.6 225.7L762.2 224.3L764.8 225.4L767.3 226.1L769.9 225.9L772.4 225.7L775.0 226.4L777.7 226.1L780.4 224.9L783.0 223.3L785.7 222.1L790.0 226.1L793.4 228.9L796.8 232.9L798.5 230.7L801.4 227.2L804.2 224.6L807.1 221.3L809.9 218.6L812.8 215.8L815.6 217.3L818.5 219.1L821.4 218.2L824.2 220.4L827.2 224.0L830.3 226.1L833.3 230.6L836.3 228.2L839.4 228.3L842.4 226.1L845.1 230.1L847.7 234.7L850.4 237.5L852.9 234.2L855.4 229.9L857.9 227.6L860.4 224.9L862.9 221.5L865.8 221.1L868.6 219.8L871.4 217.2L874.3 215.8L877.1 216.7L880.0 217.1L882.9 219.6L885.7 220.4L888.4 220.4L891.2 220.9L893.9 221.3L896.7 221.9L899.4 223.8L902.4 217.4L905.5 209.2L908.5 203.3L911.2 203.5L913.9 200.5L916.7 201.4L919.4 198.7L922.1 198.7L924.8 197.1L927.6 198.3L930.3 196.8L933.1 197.5L935.8 196.5L938.4 190.3L941.0 184.6L943.5 180.9L946.1 174.8L949.1 189.4L952.2 203.8L955.2 217.0L957.8 210.4L960.3 201.8L962.9 195.9L965.4 188.5L968.1 191.3L970.9 193.0L973.6 196.4L976.4 197.0L979.1 199.9L981.8 203.7L984.4 205.7L987.1 206.7L989.8 209.3L992.4 213.5L995.1 215.8L997.8 213.1L1000.5 208.0L1003.3 205.1L1006.0 202.7L1008.7 198.7L1011.4 197.0L1014.2 197.8L1016.9 196.0L1019.7 194.0L1022.4 194.2L1025.1 189.3L1027.7 185.2L1030.4 180.5L1033.0 187.8L1035.5 195.7L1038.0 201.8L1040.6 210.1L1043.6 200.9L1046.7 190.0L1049.7 180.5L1050.0 181.7L1052.5 184.6L1055.0 187.1L1057.5 189.2L1060.0 191.9L1061.8 195.8L1064.5 191.6L1067.3 188.6L1070.0 184.0L1072.7 189.8L1075.5 194.1L1078.2 198.1L1080.8 197.3L1083.4 195.7L1086.0 194.2L1088.6 195.5L1091.2 193.9L1093.7 193.2L1096.3 191.1L1098.9 190.8L1101.5 190.8L1104.1 188.7L1107.0 197.4L1109.9 204.8L1112.9 212.1L1115.8 220.5L1118.8 215.9L1121.7 212.6L1124.6 206.9L1127.6 202.8L1130.7 203.2L1133.9 203.0L1137.0 202.8L1139.7 192.0L1142.5 180.1L1145.2 167.6L1147.8 170.0L1150.5 172.3L1153.2 175.8L1155.8 179.3L1158.5 185.6L1161.3 192.4L1164.0 199.5L1166.7 206.1L1169.5 210.5L1172.2 218.1L1175.3 203.6L1178.5 188.3L1181.6 172.3L1184.7 178.6L1187.9 183.4L1191.0 188.7L1194.0 188.8L1196.9 190.7L1199.8 191.2L1202.8 191.1L1205.4 188.7L1208.0 186.5L1210.6 182.3L1213.2 178.8L1215.8 177.1L1218.3 174.9L1220.9 170.6L1223.5 169.1L1226.1 166.8L1228.7 162.9L1231.2 172.7L1233.7 184.0L1236.2 194.5L1238.8 204.4L1241.3 214.2L1243.8 224.7L1246.3 235.7L1248.9 226.0L1251.5 215.7L1254.0 204.6L1256.6 193.4L1259.2 184.0L1262.3 177.7L1265.5 170.6L1268.6 162.9L1271.7 174.8L1274.9 188.2L1278.0 200.5L1280.7 196.8L1283.4 192.0L1286.1 186.5L1288.7 181.6L1291.4 177.2L1294.1 171.6L1296.8 167.6L1300.3 165.7L1303.9 165.2L1306.8 170.9L1309.8 178.6L1312.7 184.3L1315.6 191.1L1320.0 191.9L1322.7 195.8L1325.1 190.5L1327.6 184.6L1330.0 179.3L1332.8 179.1L1335.5 164.7L1338.2 149.4L1340.8 134.7L1343.5 121.4L1346.2 130.6L1348.8 137.1L1351.5 144.5L1354.2 153.4L1356.8 159.5L1359.3 165.6L1361.9 169.9L1364.4 176.7L1367.0 181.9L1369.6 188.1L1372.1 192.6L1374.7 198.4L1377.2 206.5L1379.8 211.1L1382.7 188.5L1385.5 164.1L1388.4 140.6L1391.0 147.2L1393.5 152.9L1396.1 160.5L1398.6 166.1L1401.2 172.7L1403.9 166.6L1406.5 159.1L1409.2 152.1L1411.9 145.3L1414.5 136.4L1417.2 129.9L1419.6 135.2L1422.0 142.0L1424.4 148.4L1426.8 154.6L1429.3 160.9L1431.7 168.5L1434.1 175.7L1436.5 181.2L1439.0 179.0L1441.5 178.0L1444.0 174.8L1446.9 165.1L1449.8 152.4L1452.8 143.0L1455.7 132.1L1458.4 139.3L1461.1 146.1L1463.7 155.6L1466.4 162.0L1469.6 156.1L1472.8 151.4L1476.0 145.9L1478.7 149.2L1481.3 152.9L1484.0 155.2L1486.7 157.7L1489.6 158.9L1492.4 160.4L1495.3 162.0L1497.8 168.3L1500.2 177.4L1502.7 183.4L1505.9 180.3L1509.1 174.1L1512.3 170.5L1515.2 167.3L1518.0 165.6L1520.9 164.1L1523.9 157.9L1526.8 153.3L1529.8 147.4L1532.7 140.6L1535.2 152.1L1537.6 160.9L1540.1 172.7L1542.5 165.4L1544.9 157.2L1547.3 149.0L1549.7 140.6L1550.0 153.4L1552.8 158.9L1555.7 160.9L1558.5 166.3L1560.0 166.3L1563.1 151.9L1566.1 139.8L1569.2 125.6L1572.1 142.4L1574.9 157.4L1577.8 172.7L1580.6 160.1L1583.5 148.7L1586.3 136.3L1588.9 138.6L1591.5 138.8L1594.0 141.0L1596.6 142.6L1599.2 144.9L1601.7 149.3L1604.2 155.5L1606.7 160.1L1609.1 165.6L1611.6 170.7L1614.1 176.9L1616.8 172.0L1619.4 165.1L1622.1 161.4L1624.8 155.6L1627.2 154.3L1629.6 153.4L1632.0 155.0L1634.4 152.8L1636.8 154.0L1639.2 153.3L1641.6 152.8L1644.0 151.3L1646.4 147.0L1648.8 144.2L1651.2 139.9L1653.7 138.4L1656.1 134.7L1658.5 130.8L1660.9 126.9L1663.3 123.5L1666.0 141.3L1668.7 160.6L1671.3 178.0L1674.0 196.2L1676.8 181.5L1679.7 165.4L1682.5 151.3L1685.1 151.1L1687.6 151.1L1690.2 153.1L1692.7 153.1L1695.3 153.4L1697.9 161.5L1700.5 172.2L1703.0 179.8L1705.6 189.1L1708.2 198.3L1710.8 184.6L1713.5 172.1L1716.2 160.6L1718.8 147.0L1721.7 155.2L1724.5 163.3L1727.4 172.7" stroke="#8000ff" stroke-width="8.0"/>
<polygon points="218.0,1156.0 218.6,1145.0 222.0,1140.0 226.0,1138.0 231.0,1137.0 236.0,1131.0 241.0,1127.0 245.0,1124.0 246.5,1108.0 249.0,1101.0 253.0,1100.6 256.0,1106.0 258.0,1113.0 261.0,1104.0 265.0,1093.0 266.0,1156.0" fill="#ff0080" stroke="none"/>
<path d="M219.5 1151.9L222.1 1148.5L224.8 1144.1L227.4 1144.3L230.0 1138.5L232.5 1138.2L234.9 1145.3L237.4 1144.4L241.9 1132.5L244.9 1120.4L247.9 1115.9L250.9 1104.1L255.4 1114.5L257.9 1120.5L260.4 1122.8L262.9 1129.5L267.3 1096.6L269.9 1093.5L272.6 1089.3L275.2 1086.1L277.8 1084.6L280.3 1085.3L282.8 1088.8L285.3 1092.1L288.3 1106.2L291.3 1114.5L295.8 1084.6L298.8 1069.7L301.8 1054.7L304.7 1033.8L309.2 1036.7L313.7 1068.2L316.7 1059.5L319.7 1045.7L322.7 1050.8L325.7 1059.4L328.7 1068.2L331.7 1056.3L334.7 1039.7L337.2 1034.6L339.6 1036.1L342.1 1032.3L346.6 1021.8L349.6 1013.1L352.6 1006.8L355.3 1006.5L358.1 997.6L360.8 997.3L363.5 988.8L366.2 975.6L368.8 964.0L371.5 952.8L374.2 945.4L377.1 951.2L380.0 953.3L382.9 955.1L385.8 960.8L388.5 963.1L391.2 968.6L393.8 967.1L396.5 971.9L399.2 974.2L403.1 920.4L406.3 921.4L409.5 924.9L412.7 930.0L415.3 919.5L417.8 906.9L420.4 893.5L422.8 884.5L425.2 876.5L427.6 869.3L430.0 864.6L432.6 864.3L435.1 862.6L437.7 860.3L440.3 859.0L442.8 860.4L445.4 858.8L447.8 862.5L450.2 865.5L452.6 866.6L455.0 868.5L457.6 855.1L460.1 842.8L462.7 833.8L465.3 844.2L467.8 851.2L470.4 860.8L472.8 854.0L475.2 841.8L477.6 838.1L480.0 828.1L482.6 830.3L485.1 836.6L487.7 837.7L491.5 787.7L494.4 803.3L497.3 814.6L500.0 809.9L502.7 802.5L505.4 803.2L508.1 796.0L510.8 791.5L514.0 798.2L517.2 799.1L520.4 805.0L523.6 800.2L526.8 799.1L528.1 780.0L531.4 778.6L534.2 782.3L537.1 781.2L539.9 781.7L542.8 785.4L546.2 772.3L549.6 762.6L552.6 769.2L555.7 766.8L558.7 778.6L562.2 786.8L565.6 794.5L569.0 768.7L572.4 744.4L575.4 761.3L578.5 772.9L581.5 794.5L585.0 782.5L588.4 764.9L591.0 765.1L593.6 761.8L596.2 750.8L598.8 752.0L601.4 743.8L604.0 744.7L606.6 737.5L609.6 734.1L612.7 746.9L615.7 744.4L618.7 749.5L621.8 742.8L624.8 742.1L628.2 761.7L631.7 780.9L634.6 762.5L637.4 743.7L640.2 718.2L643.1 705.6L646.5 747.0L649.9 776.3L653.3 749.9L656.8 730.7L659.8 736.4L662.9 745.3L665.9 760.3L669.3 736.6L672.7 719.3L677.3 758.1L680.7 746.3L684.1 726.2L687.0 726.9L689.8 734.6L692.6 749.3L695.5 753.5L700.1 701.1L703.5 715.3L706.9 737.5L709.5 724.8L712.2 725.9L714.8 719.1L717.5 712.0L720.1 707.9L722.8 698.8L726.2 713.0L729.7 737.5L732.4 735.9L735.0 727.4L737.7 712.2L740.3 706.8L743.0 705.2L745.6 698.8L750.0 751.3L750.2 753.5L754.6 719.3L759.3 698.8L761.4 696.5L764.8 704.5L768.2 712.5L770.9 707.4L773.7 703.0L776.4 704.4L779.2 698.7L781.9 701.1L784.9 694.1L788.0 688.1L791.0 678.3L794.5 697.8L797.9 721.6L800.8 719.2L803.6 717.4L806.4 711.0L809.3 710.2L812.1 704.8L815.0 698.0L817.9 687.3L820.7 680.6L823.4 686.2L826.0 694.8L828.7 699.0L831.3 704.3L834.0 713.7L836.6 717.1L839.2 705.1L841.8 688.8L844.3 674.5L846.9 662.4L849.6 662.9L852.2 665.0L854.9 666.9L857.5 676.1L860.0 681.3L862.5 688.2L865.1 692.0L867.8 687.1L870.4 680.4L873.1 671.5L876.0 662.5L878.8 659.1L881.6 655.4L884.5 646.4L887.5 661.2L890.6 669.2L893.6 682.9L896.5 667.6L899.3 653.2L902.0 660.8L904.6 666.1L907.3 673.9L910.0 678.0L912.6 687.0L915.3 694.3L917.9 682.9L920.6 668.6L923.2 660.1L926.3 657.2L929.3 661.4L932.4 657.8L935.2 666.9L938.1 675.2L940.9 680.8L943.8 687.4L947.2 675.6L950.6 660.1L953.2 656.7L955.8 651.0L958.3 640.2L960.9 637.3L964.3 650.7L967.7 662.4L970.2 655.3L972.6 652.1L975.1 643.9L977.6 639.9L980.0 636.4L982.5 628.2L985.9 644.9L989.3 660.1L992.1 651.2L995.0 645.4L997.9 637.4L1000.7 630.4L1004.2 655.9L1007.6 676.0L1010.3 667.4L1013.1 660.3L1015.8 655.0L1018.6 644.6L1021.3 639.6L1024.2 659.5L1027.0 678.3L1029.5 668.5L1032.1 653.3L1034.7 639.3L1037.2 628.2L1040.0 628.0L1042.9 628.4L1045.8 626.1L1048.6 628.2L1050.0 629.4L1054.0 657.3L1055.4 655.5L1060.0 639.6L1064.0 641.3L1066.6 635.1L1069.3 631.2L1071.9 629.4L1074.9 618.2L1077.9 609.4L1080.9 617.8L1083.9 627.4L1086.9 618.1L1089.9 611.4L1092.3 610.3L1094.7 609.7L1097.1 612.9L1099.5 615.0L1101.9 613.4L1104.5 621.4L1107.2 628.4L1109.8 635.3L1112.5 626.9L1115.1 614.9L1117.8 607.4L1120.8 615.7L1123.8 621.4L1126.3 612.2L1128.8 603.4L1131.8 620.6L1134.8 637.3L1137.2 627.0L1139.7 615.4L1142.1 620.3L1144.6 624.5L1147.0 629.2L1149.4 634.2L1151.8 641.1L1154.3 645.5L1156.7 651.3L1159.1 645.5L1161.6 635.8L1164.0 631.6L1166.4 628.4L1168.8 618.4L1171.3 614.0L1173.7 607.4L1177.2 617.3L1180.6 627.4L1183.6 620.8L1186.6 619.7L1189.6 611.4L1192.2 607.4L1194.8 607.4L1197.4 601.0L1200.0 597.6L1202.6 597.4L1205.6 610.6L1208.6 619.4L1212.0 613.0L1215.5 607.4L1218.0 610.8L1220.5 619.4L1223.0 603.8L1225.5 589.5L1228.2 603.1L1231.0 618.8L1233.8 629.0L1236.5 645.3L1239.5 627.7L1242.5 616.1L1245.5 597.4L1248.1 596.9L1250.8 591.4L1253.4 591.5L1255.8 593.3L1258.2 596.2L1260.6 600.9L1263.0 603.3L1265.4 605.4L1268.1 612.2L1270.7 616.7L1273.4 619.4L1276.4 597.6L1279.4 575.5L1282.4 578.9L1285.3 581.0L1288.3 583.1L1291.3 583.5L1293.8 587.8L1296.3 594.2L1298.8 598.2L1301.3 601.4L1304.0 596.6L1306.6 584.6L1309.3 579.5L1311.8 578.7L1314.2 570.5L1316.7 572.1L1319.2 567.5L1320.0 568.9L1323.1 580.2L1326.1 590.6L1329.2 601.4L1330.2 598.5L1333.5 586.5L1336.7 568.9L1339.5 574.9L1342.2 579.5L1345.0 587.3L1347.8 591.1L1350.5 577.6L1353.3 559.6L1355.9 561.0L1358.5 560.4L1361.1 561.5L1363.7 562.3L1366.3 563.3L1369.4 566.5L1372.5 565.8L1375.6 568.9L1378.4 569.2L1381.2 571.1L1383.9 571.0L1386.7 572.6L1389.9 561.3L1393.1 552.2L1395.6 553.9L1398.2 554.3L1400.8 552.2L1403.3 552.2L1406.1 566.7L1408.9 581.9L1412.2 561.5L1415.4 544.8L1418.7 560.3L1421.9 578.1L1426.5 546.7L1429.8 554.7L1433.0 567.0L1435.8 561.0L1438.5 554.1L1441.3 564.7L1444.1 574.4L1447.3 559.0L1450.6 548.5L1453.1 554.7L1455.7 554.8L1458.2 561.7L1460.7 563.3L1463.2 562.3L1465.6 559.9L1468.1 554.1L1471.2 558.5L1474.3 566.0L1477.4 572.6L1481.1 541.1L1484.3 539.9L1487.6 533.7L1492.2 561.5L1495.5 543.8L1498.7 531.9L1501.2 532.0L1503.8 537.8L1506.4 540.2L1508.9 543.0L1511.3 550.0L1513.7 553.5L1516.1 556.6L1518.5 563.7L1520.9 565.2L1523.4 559.7L1525.9 554.2L1528.4 549.6L1531.0 542.3L1533.5 536.6L1536.0 532.4L1538.5 526.3L1541.3 539.3L1544.1 554.1L1547.0 550.3L1550.0 541.1L1551.5 543.0L1555.6 568.9L1557.0 570.7L1560.0 546.7L1562.4 544.0L1564.9 539.4L1567.3 533.1L1569.8 531.1L1572.2 528.1L1575.0 532.2L1577.8 537.8L1580.5 542.5L1583.3 546.7L1586.1 540.2L1588.8 531.9L1591.6 520.2L1594.4 511.5L1597.2 530.6L1600.0 550.4L1603.1 541.9L1606.2 534.8L1609.3 522.6L1611.9 526.8L1614.5 533.1L1617.0 540.0L1619.6 541.3L1622.2 548.5L1625.5 526.1L1628.7 505.9L1631.5 519.9L1634.2 530.1L1637.0 539.3L1640.1 535.0L1643.2 528.3L1646.3 526.3L1648.8 531.8L1651.2 533.6L1653.7 535.6L1656.8 533.2L1659.9 529.9L1663.0 522.6L1665.5 519.8L1668.0 511.9L1670.6 505.2L1673.1 502.2L1675.6 507.6L1678.1 515.5L1680.6 522.1L1683.2 526.8L1685.7 533.4L1688.2 542.7L1690.7 548.5L1693.2 542.3L1695.6 534.0L1698.1 528.1L1700.9 532.0L1703.7 530.8L1706.5 528.2L1709.3 531.9L1711.8 524.9L1714.3 520.6L1716.9 511.2L1719.4 505.9L1722.7 525.6L1725.9 543.0" stroke="#ff0080" stroke-width="8.6"/>
</g>
<g stroke="#000" stroke-width="8"><line x1="197" y1="1156.5" x2="220" y2="1156.5"/><line x1="197" y1="1033.3" x2="220" y2="1033.3"/><line x1="197" y1="910.1" x2="220" y2="910.1"/><line x1="197" y1="786.9" x2="220" y2="786.9"/><line x1="197" y1="663.7" x2="220" y2="663.7"/><line x1="197" y1="540.5" x2="220" y2="540.5"/><line x1="197" y1="417.3" x2="220" y2="417.3"/><line x1="197" y1="294.1" x2="220" y2="294.1"/><line x1="197" y1="170.9" x2="220" y2="170.9"/><line x1="197" y1="46.3" x2="220" y2="46.3"/><line x1="208" y1="1094.9" x2="220" y2="1094.9"/><line x1="208" y1="971.7" x2="220" y2="971.7"/><line x1="208" y1="848.5" x2="220" y2="848.5"/><line x1="208" y1="725.3" x2="220" y2="725.3"/><line x1="208" y1="602.1" x2="220" y2="602.1"/><line x1="208" y1="478.9" x2="220" y2="478.9"/><line x1="208" y1="355.7" x2="220" y2="355.7"/><line x1="208" y1="232.5" x2="220" y2="232.5"/><line x1="208" y1="109.3" x2="220" y2="109.3"/><line x1="219.5" y1="1156" x2="219.5" y2="1178"/><line x1="408.3" y1="1156" x2="408.3" y2="1178"/><line x1="597.1" y1="1156" x2="597.1" y2="1178"/><line x1="785.9" y1="1156" x2="785.9" y2="1178"/><line x1="974.7" y1="1156" x2="974.7" y2="1178"/><line x1="1163.5" y1="1156" x2="1163.5" y2="1178"/><line x1="1352.4" y1="1156" x2="1352.4" y2="1178"/><line x1="1541.2" y1="1156" x2="1541.2" y2="1178"/><line x1="1730.0" y1="1156" x2="1730.0" y2="1178"/><line x1="313.9" y1="1156" x2="313.9" y2="1167.5"/><line x1="502.7" y1="1156" x2="502.7" y2="1167.5"/><line x1="691.5" y1="1156" x2="691.5" y2="1167.5"/><line x1="880.3" y1="1156" x2="880.3" y2="1167.5"/><line x1="1069.1" y1="1156" x2="1069.1" y2="1167.5"/><line x1="1258.0" y1="1156" x2="1258.0" y2="1167.5"/><line x1="1446.8" y1="1156" x2="1446.8" y2="1167.5"/><line x1="1635.6" y1="1156" x2="1635.6" y2="1167.5"/></g>
<line x1="220" y1="42" x2="220" y2="1161" stroke="#000" stroke-width="8"/>
<line x1="216" y1="1156.5" x2="1734" y2="1156.5" stroke="#000" stroke-width="9"/>
<g font-size="53" text-anchor="end" fill="#000"><text x="180.5" y="1171.5">0</text><text x="180.5" y="1048.3">5</text><text x="180.5" y="925.1">10</text><text x="180.5" y="801.9">15</text><text x="180.5" y="678.7">20</text><text x="180.5" y="555.5">25</text><text x="180.5" y="432.3">30</text><text x="180.5" y="309.1">35</text><text x="180.5" y="185.9">40</text><text x="180.5" y="62.7">45</text></g>
<g font-size="53" text-anchor="middle" fill="#000"><text x="219.5" y="1237">0</text><text x="408.3" y="1237">100</text><text x="597.1" y="1237">200</text><text x="785.9" y="1237">300</text><text x="974.7" y="1237">400</text><text x="1163.5" y="1237">500</text><text x="1352.4" y="1237">600</text><text x="1541.2" y="1237">700</text><text x="1730.0" y="1237">800</text></g>
<text x="803.3 857.0 882.3 962.0 1010 1036.7 1066.7 1118.6" y="1360" font-size="85" fill="#000">Time (s)</text>
<text transform="translate(95.5,569) rotate(-90)" font-size="90" text-anchor="middle" fill="#000">Conversion (<tspan font-weight="normal">%</tspan>)</text>
<g font-size="53" style="font-weight:normal" stroke-width="1.5" class="lg">
<text x="1750.9" y="171" fill="#8000ff" stroke="#8000ff">(e)</text>
<text x="1745.3" y="241.8" fill="#860000" stroke="#860000">(d)</text>
<text x="1748.2" y="295" fill="#008000" stroke="#008000">(b)</text>
<text x="1748.2" y="353.8" fill="#ff8000" stroke="#ff8000">(c)</text>
<text x="1742.7" y="446.5" fill="#0000ff" stroke="#0000ff">(a)</text>
<text x="1748.2" y="551.3" fill="#ff0080" stroke="#ff0080">(f)</text>
</g>
</svg>
</body></html>
